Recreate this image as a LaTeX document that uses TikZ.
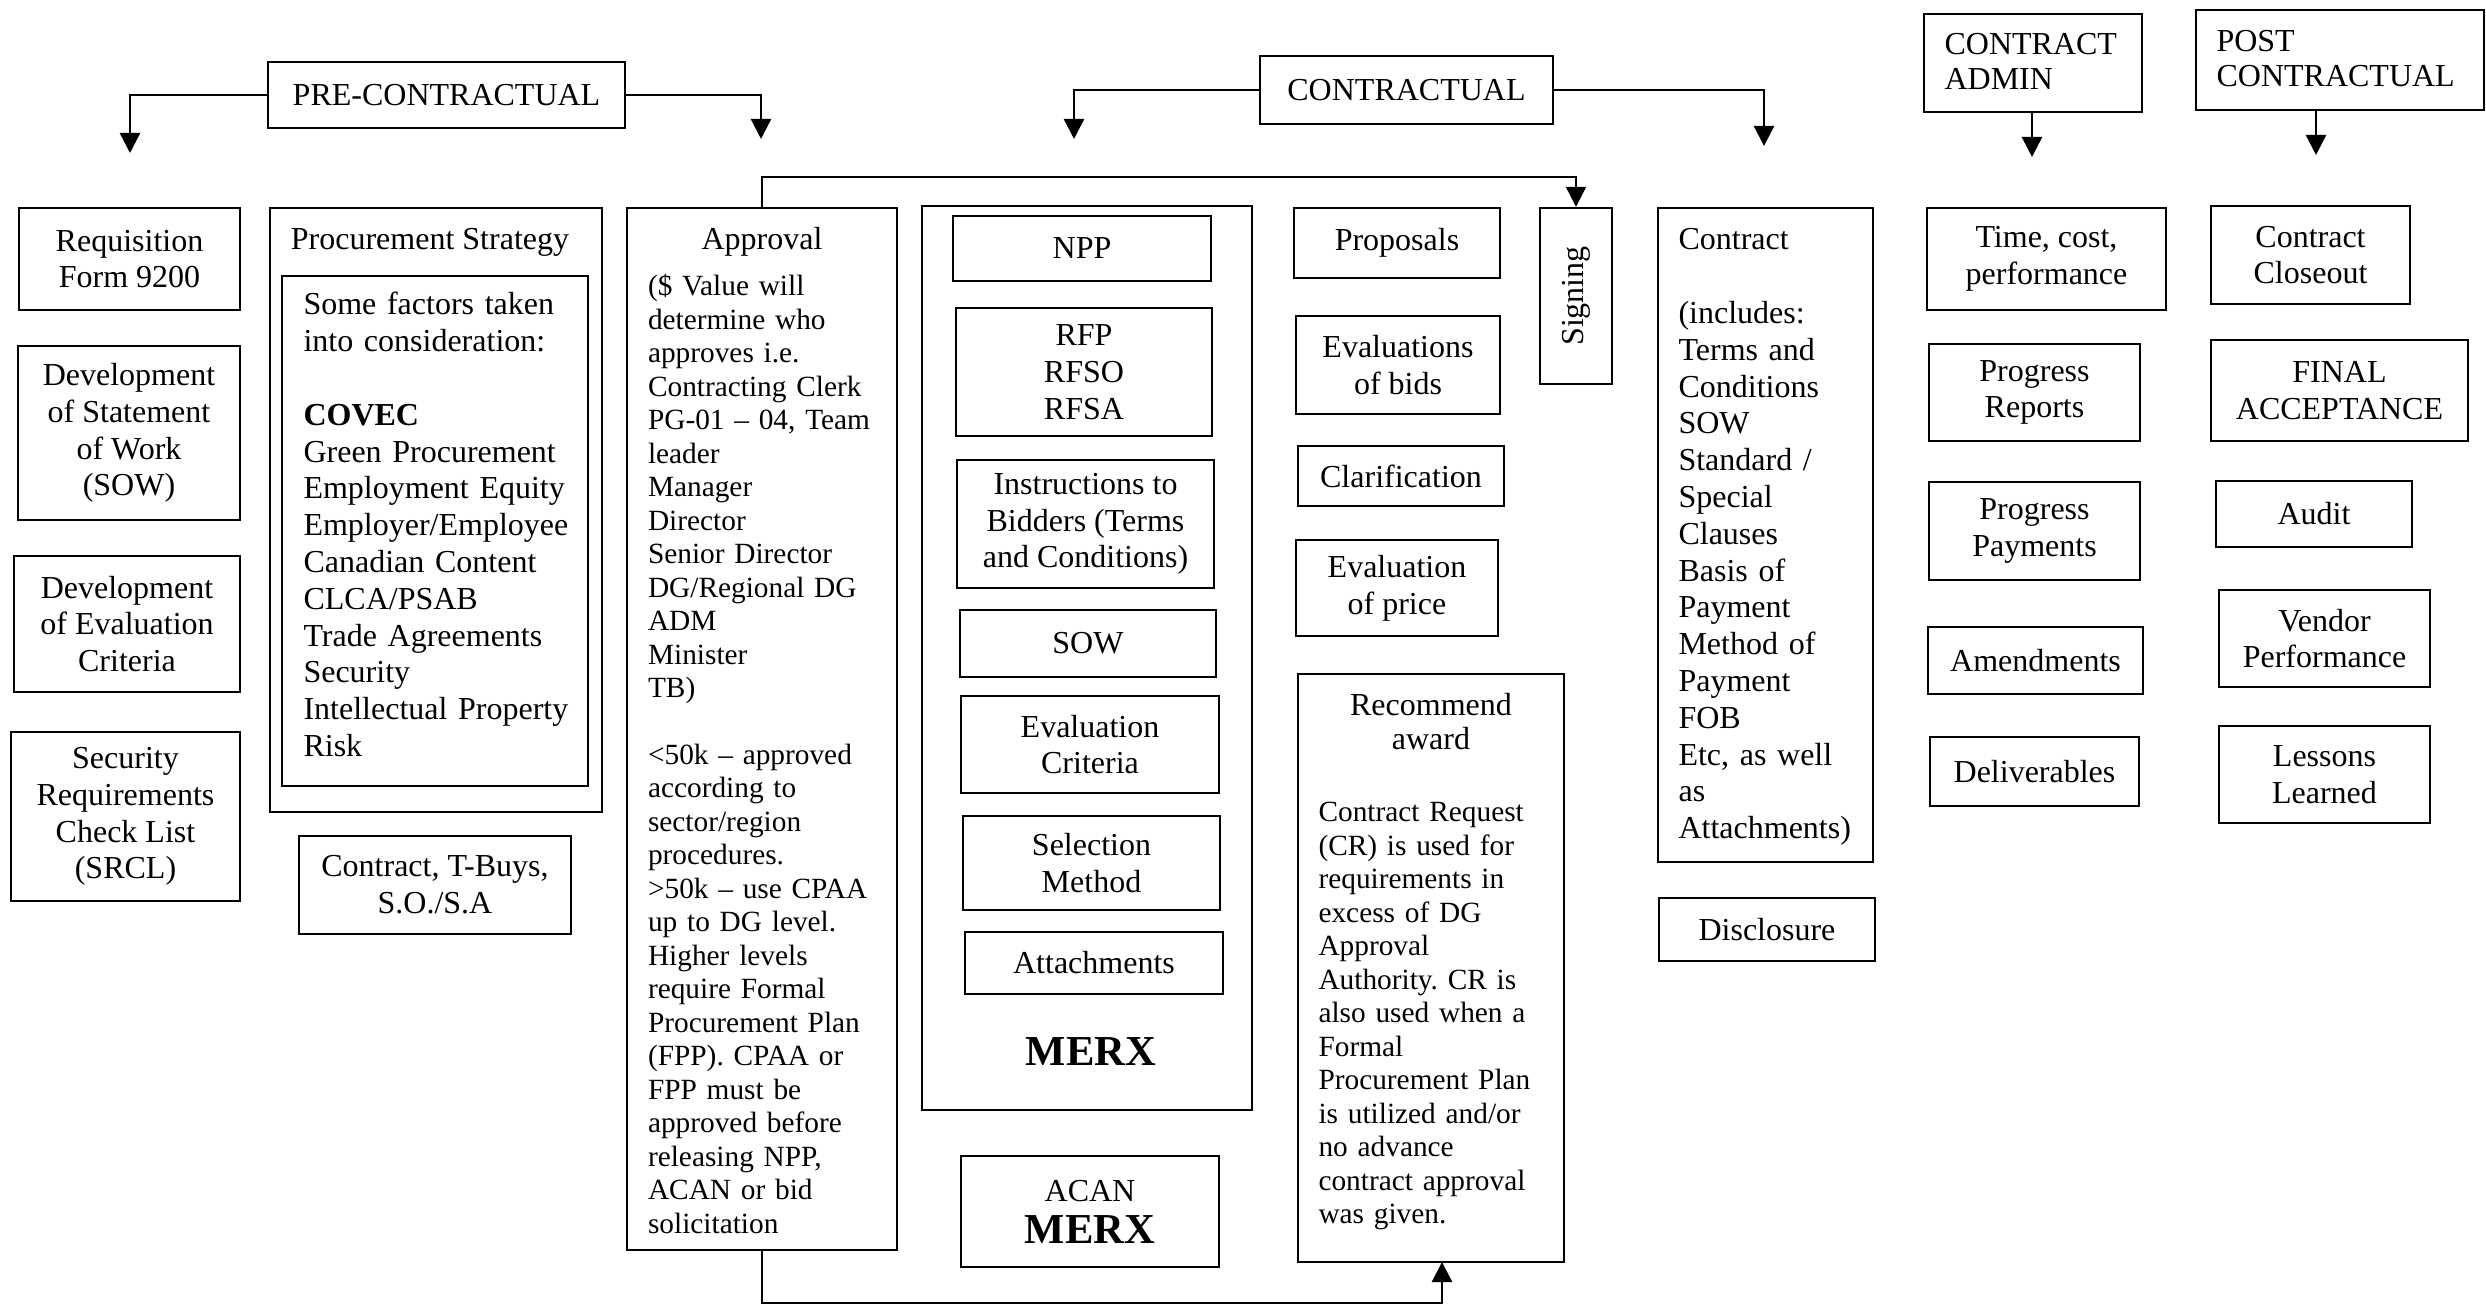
\documentclass[tikz,border=0pt]{standalone}
\usepackage{fontspec}
\usepackage{graphicx}
\setmainfont{Liberation Serif}
\usetikzlibrary{arrows.meta,calc}
\frenchspacing
\newcommand\twelve{\fontsize{12}{13.8}\selectfont}
\newcommand\eleven{\fontsize{11}{12.55}\selectfont}
\newcommand\merxfont{\fontsize{16}{18}\selectfont\bfseries}
\newcommand\bxn[7]{\node[box,#6,minimum width={(#4-#2)*0.375pt},minimum height={(#5-#3)*0.375pt}] (#1) at ({(#2+#4)/2},{(#3+#5)/2}) {#7};}
\begin{document}
\begin{tikzpicture}[x=0.375pt,y=-0.375pt,
  box/.style={draw,line width=0.9pt,rectangle,inner sep=1pt,align=center,font=\twelve},
  arr/.style={line width=0.9pt,-{Triangle[width=7.5pt,length=7.5pt]}},
  txt/.style={inner sep=0pt,anchor=base west,align=left,font=\twelve},
  ttl/.style={inner sep=0pt,anchor=base,align=center,font=\twelve}]
\useasboundingbox (0,0) rectangle (2486,1307);

% headers
\bxn{pre}{268}{62}{625}{128}{}{PRE-CONTRACTUAL}
\bxn{cont}{1260}{56}{1553}{124}{}{CONTRACTUAL}
\bxn{admin}{1924}{14}{2142}{112}{}{}
\node[txt,text width=78pt,font=\fontsize{12}{13.1}\selectfont] (admint) at (1944,55) {CONTRACT\\ADMIN};
\bxn{post}{2196}{10}{2484}{110}{}{}
\node[txt,text width=100pt,font=\fontsize{12}{13.1}\selectfont] (postt) at (2216,52) {POST\\CONTRACTUAL};

% header connectors
\coordinate (preL) at (130,153);
\coordinate (preR) at (761,139);
\coordinate (contL) at (1074,139);
\coordinate (contR) at (1764,146);
\coordinate (adminA) at (2032,157);
\coordinate (postA) at (2316,155);
\draw[arr] (pre.west) -| (preL);
\draw[arr] (pre.east) -| (preR);
\draw[arr] (cont.west) -| (contL);
\draw[arr] (cont.east) -| (contR);
\draw[arr] (admin.south -| adminA) -- (adminA);
\draw[arr] (post.south -| postA) -- (postA);

% column 1
\bxn{req}{19}{208}{240}{310}{}{Requisition\\Form 9200}
\bxn{sow}{18}{346}{240}{520}{}{Development\\of Statement\\of Work\\(SOW)}
\bxn{evc}{14}{556}{240}{692}{}{Development\\of Evaluation\\Criteria}
\bxn{srcl}{11}{732}{240}{901}{}{Security\\Requirements\\Check List\\(SRCL)}

% column 2
\bxn{ps}{270}{208}{602}{812}{}{}
\node[ttl] (pst) at (430,250) {Procurement Strategy};
\bxn{inner}{282}{276}{588}{786}{}{}
\node[txt,text width=110pt] (innert) at (303,315) {Some factors taken\\into consideration:\\~\\\textbf{COVEC}\\Green Procurement\\Employment Equity\\Employer/Employee\\Canadian Content\\CLCA/PSAB\\Trade Agreements\\Security\\Intellectual Property\\Risk};
\bxn{tbuys}{299}{836}{571}{934}{}{Contract, T-Buys,\\S.O./S.A}

% column 3
\bxn{appr}{627}{208}{897}{1250}{}{}
\node[ttl] (apprt) at (762,250) {Approval};
\node[txt,text width=95pt,font=\eleven] (apprb) at (647.5,296) {(\$ Value will\\determine who\\approves i.e.\\Contracting Clerk\\PG-01 – 04, Team\\leader\\Manager\\Director\\Senior Director\\DG/Regional DG\\ADM\\Minister\\TB)\\~\\<50k – approved\\according to\\sector/region\\procedures.\\>50k – use CPAA\\up to DG level.\\Higher levels\\require Formal\\Procurement Plan\\(FPP). CPAA or\\FPP must be\\approved before\\releasing NPP,\\ACAN or bid\\solicitation};

% column 4
\bxn{merxbox}{922}{206}{1252}{1110}{}{}
\bxn{npp}{953}{216}{1211}{281}{}{NPP}
\bxn{rfp}{956}{308}{1212}{436}{}{RFP\\RFSO\\RFSA}
\bxn{itb}{957}{460}{1214}{588}{}{Instructions to\\Bidders (Terms\\and Conditions)}
\bxn{sowb}{960}{610}{1216}{677}{}{SOW}
\bxn{evcrit}{961}{696}{1219}{793}{}{Evaluation\\Criteria}
\bxn{selm}{963}{816}{1220}{910}{}{Selection\\Method}
\bxn{att}{965}{932}{1223}{994}{}{Attachments}
\node[inner sep=0pt,font=\merxfont] (merx) at (1091,1052) {MERX};
\bxn{acan}{961}{1156}{1219}{1267}{}{ACAN\\[2pt]{\merxfont MERX}}

% column 5
\bxn{prop}{1294}{208}{1500}{278}{}{Proposals}
\bxn{evb}{1296}{316}{1500}{414}{}{Evaluations\\of bids}
\bxn{clar}{1298}{446}{1504}{506}{}{Clarification}
\bxn{evp}{1296}{540}{1498}{636}{}{Evaluation\\of price}
\bxn{rec}{1298}{674}{1564}{1262}{}{}
\node[ttl,font=\fontsize{12}{13.1}\selectfont] (rect) at (1431,750) {Recommend\\award};
\node[txt,text width=92pt,font=\eleven] (recb) at (1318,822) {Contract Request\\(CR) is used for\\requirements in\\excess of DG\\Approval\\Authority. CR is\\also used when a\\Formal\\Procurement Plan\\is utilized and/or\\no advance\\contract approval\\was given.};
\bxn{sign}{1540}{208}{1612}{384}{}{\rotatebox{90}{Signing}}

% column 6
\bxn{contract}{1658}{208}{1873}{862}{}{}
\node[txt,text width=78pt] (contractt) at (1678,250) {Contract\\~\\(includes:\\Terms and\\Conditions\\SOW\\Standard /\\Special\\Clauses\\Basis of\\Payment\\Method of\\Payment\\FOB\\Etc, as well\\as\\Attachments)};
\bxn{discl}{1659}{898}{1875}{961}{}{Disclosure}

% column 7
\bxn{tcp}{1927}{208}{2166}{310}{}{Time, cost,\\performance}
\bxn{prr}{1929}{344}{2140}{441}{}{Progress\\Reports}
\bxn{prp}{1929}{482}{2140}{580}{}{Progress\\Payments}
\bxn{amd}{1928}{627}{2143}{694}{}{Amendments}
\bxn{dlv}{1930}{737}{2139}{806}{}{Deliverables}

% column 8
\bxn{clo}{2211}{206}{2410}{304}{}{Contract\\Closeout}
\bxn{fin}{2211}{340}{2468}{441}{}{FINAL\\ACCEPTANCE}
\bxn{aud}{2216}{481}{2412}{547}{}{Audit}
\bxn{vnd}{2219}{590}{2430}{687}{}{Vendor\\Performance}
\bxn{les}{2219}{726}{2430}{823}{}{Lessons\\Learned}

% approval connectors
\coordinate (recA) at (1442,1262);
\draw[arr] (appr.north) -- ++(0,-30) -| (sign.north);
\draw[arr] (appr.south) -- ++(0,52) -| (recA);
\end{tikzpicture}
\end{document}
